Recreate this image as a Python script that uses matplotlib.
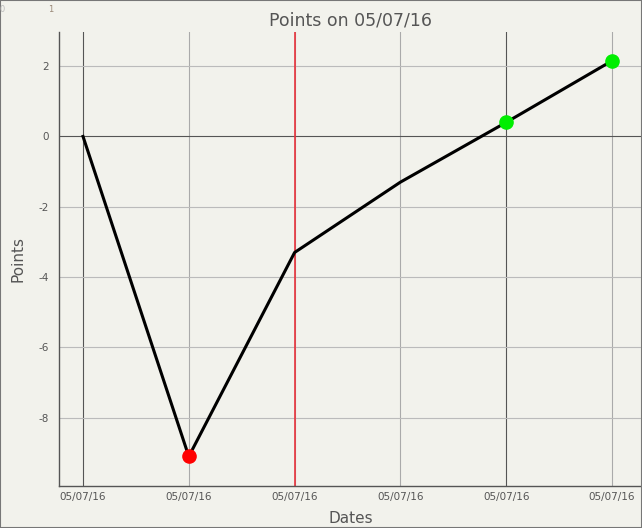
import matplotlib
matplotlib.use("Agg")
import matplotlib.pyplot as plt
from matplotlib.patches import Rectangle

plt.rcParams["axes.unicode_minus"] = False

dates = ["05/07/16"] * 6
points = [0.0, -9.1, -3.3, -1.3, 0.4, 2.15]
red_idx = [1]
green_idx = [4, 5]
yticks = [2, 0, -2, -4, -6, -8]

bg = "#f2f2ec"
txt = "#555555"

fig = plt.figure(figsize=(6.42, 5.28), dpi=100, facecolor=bg)
ax = fig.add_axes([59 / 642, 1 - 486 / 528, 1 - 59 / 642, (486 - 32) / 528])
ax.set_facecolor(bg)

x = list(range(len(points)))

# grid lines
for i in x:
    c = "#555555" if i in (0, 4) else "#aaaaaa"
    ax.axvline(i, color=c, lw=0.8, zorder=1)
for v in yticks:
    c = "#555555" if v == 0 else "#bbbbbb"
    ax.axhline(v, color=c, lw=0.8, zorder=1)
ax.axvline(2, color="#e8323c", lw=1.2, zorder=2)

ax.plot(x, points, color="black", lw=2.2, zorder=3)
ax.plot([x[i] for i in red_idx], [points[i] for i in red_idx], "o",
        color="#ff0000", ms=9.5, zorder=4)
ax.plot([x[i] for i in green_idx], [points[i] for i in green_idx], "o",
        color="#00ee00", ms=9.5, zorder=4)

ax.set_xlim(-0.227, 5.284)
ax.set_ylim(-9.94, 2.97)
ax.set_xticks(x)
ax.set_xticklabels(dates)
ax.set_yticks(yticks)
ax.tick_params(axis="both", length=0, labelsize=7.5, labelcolor=txt)
ax.tick_params(axis="x", pad=4)
ax.tick_params(axis="y", pad=7)

for s in ["top", "right"]:
    ax.spines[s].set_visible(False)
for s in ["left", "bottom"]:
    ax.spines[s].set_color("#555555")
    ax.spines[s].set_linewidth(1.0)

ax.set_title("Points on 05/07/16", fontsize=12.5, color=txt, pad=5)
ax.set_xlabel("Dates", fontsize=11, color=txt, labelpad=7)
ax.set_ylabel("Points", fontsize=11, color=txt, labelpad=10)

fig.text(0.0, 1 - 9 / 528, "0", fontsize=6, color="#bbbbbb", va="center")
fig.text(48 / 642, 1 - 9 / 528, "1", fontsize=6, color="#998877", va="center")

fig.patches.append(Rectangle((0, 0), 1, 1, transform=fig.transFigure,
                             fill=False, edgecolor="#777777", lw=1.5))

fig.savefig("out.png", dpi=100, facecolor=bg)
